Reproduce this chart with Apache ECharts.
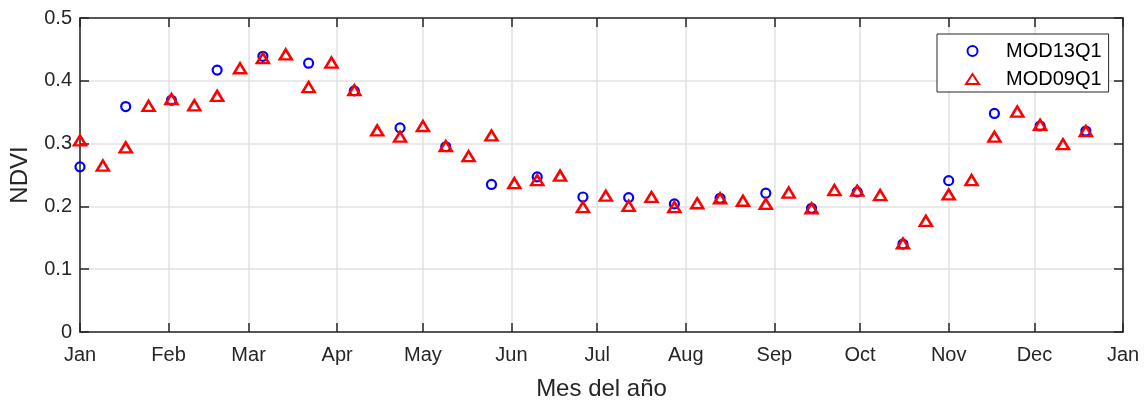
<!DOCTYPE html>
<html>
<head>
<meta charset="utf-8">
<script src="https://cdn.jsdelivr.net/npm/echarts@6/dist/echarts.min.js"></script>
<style>
  html, body { margin: 0; padding: 0; background: #fff; }
  #chart { width: 1148px; height: 400px; }
</style>
</head>
<body>
<div id="chart"></div>
<script>
// Month tick labels along the time axis
const monthLabels = ['Jan', 'Feb', 'Mar', 'Apr', 'May', 'Jun', 'Jul', 'Aug', 'Sep', 'Oct', 'Nov', 'Dec'];

// MOD13Q1: 16-day composites (day of year of each composite, NDVI)
const doyMOD13 = [1, 17, 33, 49, 65, 81, 97, 113, 129, 145, 161, 177, 193, 209, 225, 241, 257, 273, 289, 305, 321, 337, 353];
const ndviMOD13 = [0.263, 0.359, 0.369, 0.417, 0.439, 0.428, 0.384, 0.325, 0.295, 0.235, 0.247, 0.215,
                   0.214, 0.204, 0.213, 0.221, 0.197, 0.223, 0.140, 0.241, 0.348, 0.328, 0.320];

// MOD09Q1: 8-day composites
const doyMOD09 = [1, 9, 17, 25, 33, 41, 49, 57, 65, 73, 81, 89, 97, 105, 113, 121, 129, 137, 145, 153, 161, 169,
                  177, 185, 193, 201, 209, 217, 225, 233, 241, 249, 257, 265, 273, 281, 289, 297, 305, 313, 321,
                  329, 337, 345, 353];
const ndviMOD09 = [0.305, 0.265, 0.294, 0.360, 0.371, 0.361, 0.376, 0.420, 0.436, 0.442, 0.390, 0.429, 0.385,
                   0.321, 0.311, 0.328, 0.296, 0.280, 0.313, 0.237, 0.242, 0.249, 0.199, 0.217, 0.201, 0.215,
                   0.199, 0.205, 0.213, 0.209, 0.204, 0.222, 0.197, 0.226, 0.225, 0.218, 0.141, 0.177, 0.219,
                   0.242, 0.311, 0.351, 0.330, 0.299, 0.320];

const YEAR = 2001;
const DAY = 86400000;
const toTime = doy => new Date(YEAR, 0, doy).getTime();
const pairs = (doys, vals) => doys.map((d, i) => [toTime(d), vals[i]]);

const FONT = "'Liberation Sans', Arial, Helvetica, sans-serif";
const AXIS_COLOR = '#262626';
const GRID_COLOR = '#e2e2e2';

const xMin = toTime(1);
const xMax = new Date(YEAR + 1, 0, 1).getTime();

const chart = echarts.init(document.getElementById('chart'), null, { renderer: 'canvas' });

const timeAxisBase = {
  type: 'time',
  min: xMin,
  max: xMax,
  splitNumber: 12,
  minInterval: 28 * DAY,
  maxInterval: 31 * DAY,
  axisLine: { show: true, onZero: false, lineStyle: { color: AXIS_COLOR, width: 1.5 } },
  axisTick: { show: true, inside: true, length: 9, lineStyle: { color: AXIS_COLOR, width: 1.5 } }
};

const valueAxisBase = {
  type: 'value',
  min: 0,
  max: 0.5,
  interval: 0.1,
  axisLine: { show: true, lineStyle: { color: AXIS_COLOR, width: 1.5 } },
  axisTick: { show: true, inside: true, length: 9, lineStyle: { color: AXIS_COLOR, width: 1.5 } }
};

chart.setOption({
  animation: false,
  backgroundColor: '#ffffff',
  textStyle: { fontFamily: FONT },
  // fixed plot box; axis names may sit close to the canvas edge
  grid: { left: 80, right: 25, top: 18, bottom: 68, containLabel: false, outerBoundsMode: 'none' },
  legend: {
    orient: 'vertical',
    left: 937,
    top: 34,
    padding: [7, 7, 3, 28],
    itemWidth: 13,
    itemHeight: 10,
    itemGap: 8,
    borderColor: AXIS_COLOR,
    borderWidth: 1,
    backgroundColor: '#ffffff',
    textStyle: { fontFamily: FONT, fontSize: 20, color: '#000000', padding: [0, 0, 0, 22] },
    data: ['MOD13Q1', 'MOD09Q1']
  },
  xAxis: [
    Object.assign({}, timeAxisBase, {
      position: 'bottom',
      name: 'Mes del año',
      nameLocation: 'middle',
      nameGap: 45,
      nameTextStyle: { fontFamily: FONT, fontSize: 24, color: AXIS_COLOR },
      axisLabel: {
        show: true,
        margin: 13,
        fontFamily: FONT,
        fontSize: 20,
        color: AXIS_COLOR,
        showMinLabel: true,
        showMaxLabel: true,
        hideOverlap: false,
        formatter: v => monthLabels[new Date(v).getMonth()]
      },
      splitLine: { show: true, lineStyle: { color: GRID_COLOR, width: 1.5 } }
    }),
    Object.assign({}, timeAxisBase, {
      position: 'top',
      axisLabel: { show: false },
      splitLine: { show: false }
    })
  ],
  yAxis: [
    Object.assign({}, valueAxisBase, {
      position: 'left',
      name: 'NDVI',
      nameLocation: 'middle',
      nameRotate: 90,
      nameGap: 48,
      nameTextStyle: { fontFamily: FONT, fontSize: 24, color: AXIS_COLOR },
      axisLabel: { show: true, margin: 8, fontFamily: FONT, fontSize: 20, color: AXIS_COLOR },
      splitLine: { show: true, lineStyle: { color: GRID_COLOR, width: 1.5 } }
    }),
    Object.assign({}, valueAxisBase, {
      position: 'right',
      axisLabel: { show: false },
      splitLine: { show: false }
    })
  ],
  series: [
    {
      name: 'MOD13Q1',
      type: 'scatter',
      xAxisIndex: 0,
      yAxisIndex: 0,
      symbol: 'circle',
      symbolSize: 9,
      itemStyle: { color: 'rgba(0,0,0,0)', borderColor: '#0000ff', borderWidth: 2.2, opacity: 1 },
      emphasis: { disabled: true },
      z: 2,
      data: pairs(doyMOD13, ndviMOD13)
    },
    {
      name: 'MOD09Q1',
      type: 'scatter',
      xAxisIndex: 0,
      yAxisIndex: 0,
      symbol: 'triangle',
      symbolSize: [12, 10],
      itemStyle: { color: 'rgba(0,0,0,0)', borderColor: '#ff0000', borderWidth: 2.5, opacity: 1 },
      emphasis: { disabled: true },
      z: 3,
      data: pairs(doyMOD09, ndviMOD09)
    }
  ]
});
</script>
</body>
</html>
